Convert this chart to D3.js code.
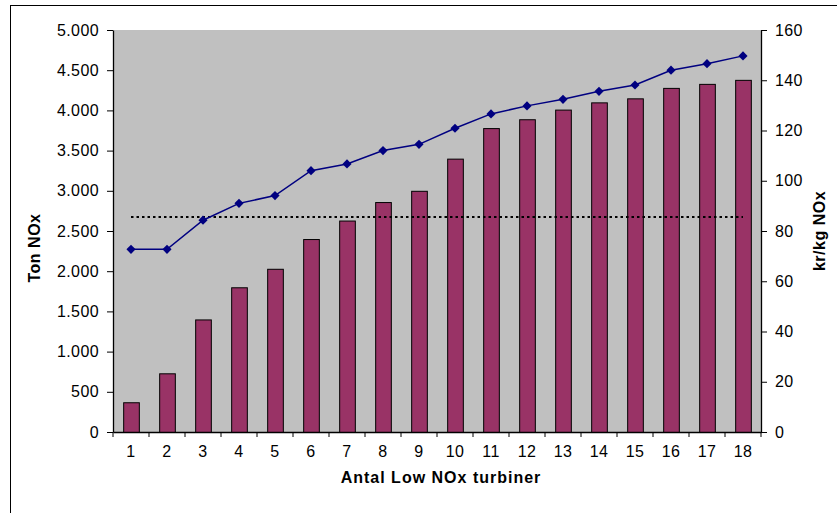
<!DOCTYPE html>
<html><head><meta charset="utf-8">
<script src="https://cdn.jsdelivr.net/npm/d3@7"></script>
<style>body{margin:0;background:#fff}svg{display:block}text{font-family:Arial,"Liberation Sans",sans-serif}</style>
</head><body>
<svg id="c" width="837" height="513"></svg>
<script>
const categories = ["1","2","3","4","5","6","7","8","9","10","11","12","13","14","15","16","17","18"];
const tonNOx = [370,730,1400,1800,2030,2400,2630,2860,3000,3400,3780,3890,4010,4100,4150,4280,4330,4380];
const krPerKg = [72.7,72.7,84.3,91.0,94.1,104.0,106.7,112.0,114.5,120.9,126.6,129.8,132.4,135.6,138.1,144.0,146.6,149.7];
const referenceLevel = 85.6; // kr/kg NOx, dotted line
const leftTicks = [0,500,1000,1500,2000,2500,3000,3500,4000,4500,5000];
const rightTicks = [0,20,40,60,80,100,120,140,160];
const xTitle = "Antal Low NOx turbiner";
const yLeftTitle = "Ton NOx";
const yRightTitle = "kr/kg NOx";

const svg = d3.select("#c");
const m = {left:113, right:761, top:30, bottom:432};

// outer frame
svg.append("rect").attr("x",10.5).attr("y",5.5).attr("width",900).attr("height",600)
  .attr("fill","#fff").attr("stroke","#000").attr("stroke-width",1);

const x = d3.scaleBand().domain(categories).range([m.left,m.right]).paddingInner(0.565).paddingOuter(0.2825);
const xb = d3.scaleBand().domain(categories).range([m.left,m.right]);
const yL = d3.scaleLinear().domain([0,5000]).range([m.bottom,m.top]);
const yR = d3.scaleLinear().domain([0,160]).range([m.bottom,m.top]);

// plot area
svg.append("rect").attr("x",m.left).attr("y",m.top).attr("width",m.right-m.left).attr("height",m.bottom-m.top).attr("fill","#C0C0C0");

// bars
svg.append("g").selectAll("rect").data(tonNOx).join("rect")
  .attr("x",(d,i)=>x(categories[i])+0.5)
  .attr("y",d=>yL(d)+0.5)
  .attr("width",x.bandwidth())
  .attr("height",d=>m.bottom-yL(d))
  .attr("fill","#993366").attr("stroke","#000").attr("stroke-width",1);

// dotted reference line
const cx = c => xb(c)+xb.bandwidth()/2;
svg.append("line")
  .attr("x1",cx(categories[0])).attr("x2",cx(categories[categories.length-1]))
  .attr("y1",yR(referenceLevel)).attr("y2",yR(referenceLevel))
  .attr("stroke","#000").attr("stroke-width",2).attr("stroke-dasharray","2.5,3");

// line
const line = d3.line().x((d,i)=>cx(categories[i])).y(d=>yR(d));
svg.append("path").datum(krPerKg).attr("d",line).attr("fill","none").attr("stroke","#000080").attr("stroke-width",1.5);
const sym = d3.symbol().type(d3.symbolSquare).size(42);
svg.append("g").selectAll("path").data(krPerKg).join("path")
  .attr("d",sym)
  .attr("transform",(d,i)=>`translate(${cx(categories[i])},${yR(d)}) rotate(45)`)
  .attr("fill","#000080");

const fmt = d => d3.format(",")(d).replace(/,/g,".");

// left axis
const gL = svg.append("g").attr("transform",`translate(${m.left},0)`)
  .call(d3.axisLeft(yL).tickValues(leftTicks).tickFormat(fmt).tickSize(6).tickPadding(8).tickSizeOuter(0));
// right axis
const gR = svg.append("g").attr("transform",`translate(${m.right},0)`)
  .call(d3.axisRight(yR).tickValues(rightTicks).tickSize(6).tickPadding(8).tickSizeOuter(0));
// bottom axis
const gB = svg.append("g").attr("transform",`translate(0,${m.bottom})`)
  .call(d3.axisBottom(xb).tickSize(0).tickPadding(14).tickSizeOuter(0));
// boundary ticks on x axis
svg.append("g").selectAll("line").data(categories.concat(["end"])).join("line")
  .attr("x1",(d,i)=> i<categories.length ? xb(d) : m.right)
  .attr("x2",(d,i)=> i<categories.length ? xb(d) : m.right)
  .attr("y1",m.bottom).attr("y2",m.bottom+5)
  .attr("stroke","#000").attr("stroke-width",1);

[gL,gR,gB].forEach(g=>{
  g.selectAll("path.domain").attr("stroke","#000").attr("stroke-width",1.3);
  g.selectAll(".tick line").attr("stroke","#000");
  g.selectAll("text").attr("font-size",16).attr("letter-spacing",0.4).attr("fill","#000").attr("font-family","Arial, 'Liberation Sans', sans-serif");
});

// titles
svg.append("text").attr("x",441).attr("y",483).attr("text-anchor","middle")
  .attr("font-size",16).attr("letter-spacing",1).attr("font-weight","bold").text(xTitle);
svg.append("text").attr("transform","translate(40,248) rotate(-90)").attr("text-anchor","middle")
  .attr("font-size",16).attr("letter-spacing",0.5).attr("font-weight","bold").text(yLeftTitle);
svg.append("text").attr("transform","translate(825,231) rotate(-90)").attr("text-anchor","middle")
  .attr("font-size",16).attr("letter-spacing",0.5).attr("font-weight","bold").text(yRightTitle);
</script>
</body></html>
